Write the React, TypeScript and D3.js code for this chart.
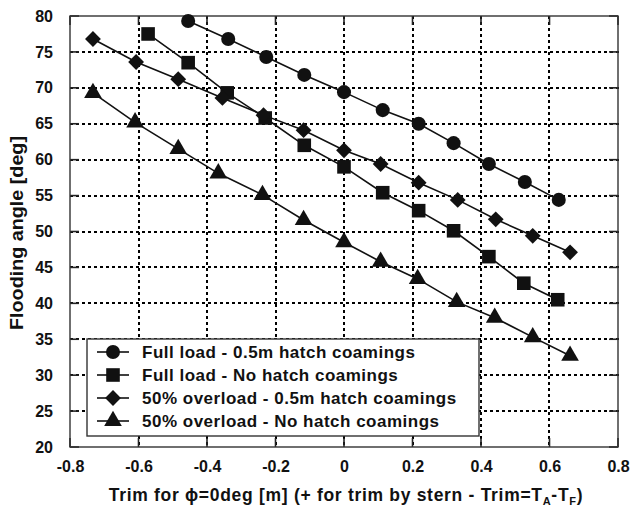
import React, { useEffect, useRef } from 'react';
import * as d3 from 'd3';

// Full load - 0.5m hatch coamings
const fullHatchX = [-0.455, -0.338, -0.227, -0.116, 0.0, 0.113, 0.218, 0.32, 0.423, 0.528, 0.627];
const fullHatchY = [79.3, 76.8, 74.3, 71.8, 69.4, 66.9, 65.0, 62.3, 59.4, 56.9, 54.4];

// Full load - No hatch coamings
const fullNoX = [-0.572, -0.455, -0.341, -0.23, -0.116, 0.0, 0.113, 0.218, 0.32, 0.423, 0.525, 0.624];
const fullNoY = [77.5, 73.5, 69.3, 65.8, 62.0, 59.0, 55.4, 52.9, 50.1, 46.5, 42.8, 40.5];

// 50% overload - 0.5m hatch coamings
const overHatchX = [-0.733, -0.607, -0.484, -0.355, -0.235, -0.118, 0.0, 0.107, 0.218, 0.332, 0.443, 0.551, 0.66];
const overHatchY = [76.8, 73.6, 71.2, 68.6, 66.2, 64.1, 61.3, 59.4, 56.8, 54.4, 51.7, 49.4, 47.1];

// 50% overload - No hatch coamings
const overNoX = [-0.733, -0.61, -0.484, -0.367, -0.238, -0.118, 0.0, 0.107, 0.215, 0.329, 0.44, 0.551, 0.66];
const overNoY = [69.3, 65.2, 61.5, 58.1, 55.1, 51.6, 48.5, 45.8, 43.4, 40.2, 38.0, 35.3, 32.7];

const xTicks = [-0.8, -0.6, -0.4, -0.2, 0, 0.2, 0.4, 0.6, 0.8];
const yTicks = [20, 25, 30, 35, 40, 45, 50, 55, 60, 65, 70, 75, 80];

const seriesNames = [
  'Full load - 0.5m hatch coamings',
  'Full load - No hatch coamings',
  '50% overload - 0.5m hatch coamings',
  '50% overload - No hatch coamings',
];

const W = 631, H = 510;
const margin = { top: 16, right: 13, bottom: 63, left: 70 };
const width = W - margin.left - margin.right;
const height = H - margin.top - margin.bottom;
const font = 'Liberation Sans, Arial, sans-serif';

const x = d3.scaleLinear().domain([-0.8, 0.8]).range([0, width]);
const y = d3.scaleLinear().domain([20, 80]).range([height, 0]);
const tickLen = 9;

const App = () => {
  const ref = useRef<SVGGElement | null>(null);

  useEffect(() => {
    if (!ref.current) return;
    const g = d3.select(ref.current);
    g.selectAll('*').remove();

    // dotted grid as filled dash rects
    const dash = 3, step = 6;
    const gridG = g.append('g').attr('fill', '#000');
    xTicks.slice(1, -1).forEach(v => {
      const gx = Math.round(x(v)) - 1;
      gridG.selectAll(null).data(d3.range(0, height - 1, step)).enter().append('rect')
        .attr('x', gx).attr('y', s => s).attr('width', 2).attr('height', dash);
    });
    yTicks.slice(1, -1).forEach(v => {
      const gy = Math.round(y(v)) - 1;
      gridG.selectAll(null).data(d3.range(0, width - 1, step)).enter().append('rect')
        .attr('x', s => s).attr('y', gy).attr('width', dash).attr('height', 2);
    });

    // inward ticks on all four sides
    const ticks = g.append('g');
    xTicks.forEach(v => {
      ticks.append('line').attr('x1', x(v)).attr('x2', x(v)).attr('y1', height).attr('y2', height - tickLen)
        .style('stroke', '#222').style('stroke-width', '1.6px');
      ticks.append('line').attr('x1', x(v)).attr('x2', x(v)).attr('y1', 0).attr('y2', tickLen)
        .style('stroke', '#222').style('stroke-width', '1.6px');
    });
    yTicks.forEach(v => {
      ticks.append('line').attr('x1', 0).attr('x2', tickLen).attr('y1', y(v)).attr('y2', y(v))
        .style('stroke', '#222').style('stroke-width', '1.6px');
      ticks.append('line').attr('x1', width).attr('x2', width - tickLen).attr('y1', y(v)).attr('y2', y(v))
        .style('stroke', '#222').style('stroke-width', '1.6px');
    });

    g.append('rect').attr('width', width).attr('height', height)
      .attr('fill', 'none').attr('stroke', '#333').attr('stroke-width', 1.4);

    // tick labels
    const fmt = (d: d3.NumberValue) => String(+d);
    const axB = g.append('g').attr('transform', `translate(0,${height})`)
      .call(d3.axisBottom(x).tickValues(xTicks).tickSize(0).tickPadding(tickLen + 5).tickFormat(fmt));
    const axL = g.append('g')
      .call(d3.axisLeft(y).tickValues(yTicks).tickSize(0).tickPadding(tickLen + 8).tickFormat(fmt));
    [axB, axL].forEach(a => {
      a.select('.domain').remove();
      a.selectAll('text')
        .style('font-family', font).style('font-size', '16px').style('font-weight', 'bold').attr('fill', '#111');
    });

    const diamond = d3.symbol().type(d3.symbolSquare).size(125)();
    const data = [
      { xs: fullHatchX, ys: fullHatchY, d: d3.symbol().type(d3.symbolCircle).size(155)(), rot: 0 },
      { xs: fullNoX, ys: fullNoY, d: d3.symbol().type(d3.symbolSquare).size(185)(), rot: 0 },
      { xs: overHatchX, ys: overHatchY, d: diamond, rot: 45 },
      { xs: overNoX, ys: overNoY, d: d3.symbol().type(d3.symbolTriangle).size(135)(), rot: 0 },
    ];

    const line = d3.line<[number, number]>().x(d => x(d[0])).y(d => y(d[1]));

    data.forEach(s => {
      const pts = s.xs.map((v, i) => [v, s.ys[i]] as [number, number]);
      g.append('path').datum(pts).attr('d', line)
        .attr('fill', 'none').attr('stroke', '#111').attr('stroke-width', 1.6);
      g.selectAll(null).data(pts).enter().append('path')
        .attr('d', s.d)
        .attr('transform', d => `translate(${x(d[0])},${y(d[1])}) rotate(${s.rot})`)
        .attr('fill', '#111');
    });

    // legend
    const lg = g.append('g').attr('transform', `translate(${87 - margin.left},${339 - margin.top})`);
    lg.append('rect').attr('width', 392).attr('height', 97)
      .attr('fill', '#fff').attr('stroke', '#333').attr('stroke-width', 1.4);
    seriesNames.forEach((name, i) => {
      const ly = 13 + i * 23;
      lg.append('line').attr('x1', 10).attr('x2', 42).attr('y1', ly).attr('y2', ly)
        .attr('stroke', '#111').attr('stroke-width', 1.6);
      lg.append('path').attr('d', data[i].d)
        .attr('transform', `translate(26,${ly}) rotate(${data[i].rot})`).attr('fill', '#111');
      lg.append('text').attr('x', 55).attr('y', ly).attr('dy', '0.36em')
        .style('font-family', font).style('font-size', '17px').style('font-weight', 'bold')
        .style('letter-spacing', '0.5px')
        .attr('fill', '#111').text(name);
    });
  }, []);

  return (
    <svg width={W} height={H} style={{ display: 'block', position: 'absolute', left: 0, top: 0, background: '#fff' }}>
      <g ref={ref} transform={`translate(${margin.left},${margin.top})`} />
      <text transform="translate(23,233) rotate(-90)" textAnchor="middle" textLength={194}
        lengthAdjust="spacingAndGlyphs" fill="#111"
        style={{ fontFamily: font, fontSize: '18px', fontWeight: 'bold' }}>Flooding angle [deg]</text>
      <text x={346} y={501} textAnchor="middle" fill="#111"
        style={{ fontFamily: font, fontSize: '17.5px', fontWeight: 'bold', letterSpacing: '0.7px' }}>
        <tspan>Trim for ϕ=0deg [m] (+ for trim by stern - Trim=T</tspan>
        <tspan fontSize="11px" dy={4}>A</tspan>
        <tspan dy={-4}>-T</tspan>
        <tspan fontSize="11px" dy={4}>F</tspan>
        <tspan dy={-4}>)</tspan>
      </text>
    </svg>
  );
};

export default App;
